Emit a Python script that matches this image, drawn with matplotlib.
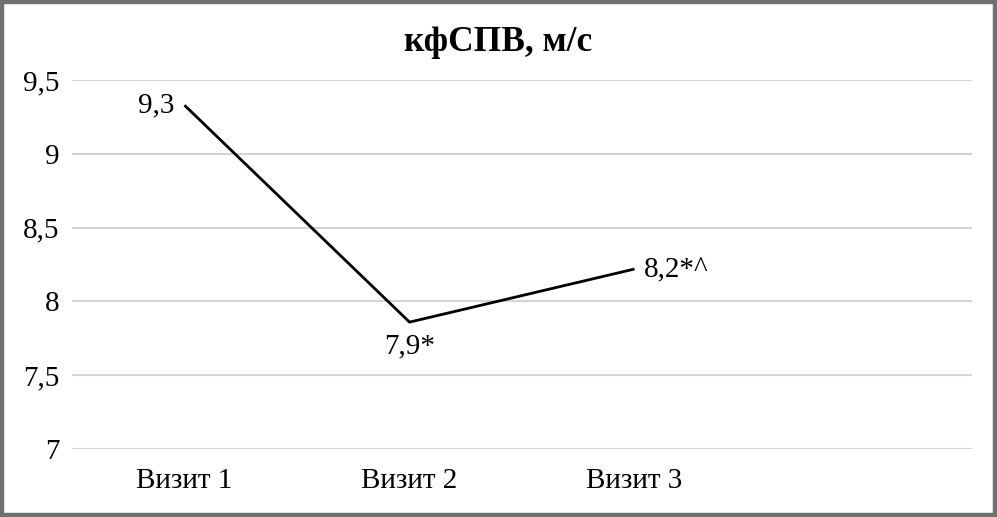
import matplotlib.pyplot as plt
from matplotlib.patches import Rectangle

# data
categories = ['Визит 1', 'Визит 2', 'Визит 3', '']
values     = [9.33, 7.86, 8.22]
labels     = ['9,3', '7,9*', '8,2*^']
yticks     = [7, 7.5, 8, 8.5, 9, 9.5]
ytick_lbls = ['7', '7,5', '8', '8,5', '9', '9,5']

plt.rcParams['font.family'] = ['Liberation Serif', 'DejaVu Serif']

fig = plt.figure(figsize=(9.97, 5.17), dpi=100)
ax = fig.add_axes([0.0722, 0.1315, 0.9028, 0.7135])

x = list(range(len(categories)))
ax.plot(x[:len(values)], values, color='black', linewidth=2.0, solid_capstyle='butt')

# data labels
ax.annotate(labels[0], (x[0], values[0]), xytext=(-7, 0), textcoords='offset points',
            ha='right', va='center', fontsize=21)
ax.annotate(labels[1], (x[1], values[1]), xytext=(0, -8), textcoords='offset points',
            ha='center', va='top', fontsize=21)
ax.annotate(labels[2], (x[2], values[2]), xytext=(7, 0), textcoords='offset points',
            ha='left', va='center', fontsize=21)

ax.set_xlim(-0.5, len(categories) - 0.5)
ax.set_ylim(7, 9.5)
ax.set_yticks(yticks)
ax.set_yticklabels(ytick_lbls, fontsize=21)
ax.set_xticks(x)
ax.set_xticklabels(categories, fontsize=21)
ax.tick_params(axis='both', length=0)
ax.tick_params(axis='y', pad=9)
ax.tick_params(axis='x', pad=14)

for s in ax.spines.values():
    s.set_visible(False)
ax.yaxis.grid(True, color='#d4d4d4', linewidth=1.5)
ax.set_axisbelow(True)

fig.text(0.5, 0.918, 'кфСПВ, м/с', ha='center', va='center',
         fontsize=25.5, fontweight='bold')

# outer frame
fig.patches.append(Rectangle((0.002, 0.004), 0.996, 0.992, transform=fig.transFigure,
                             fill=False, edgecolor='#707070', linewidth=3.2))

fig.savefig('out.png', dpi=100)
